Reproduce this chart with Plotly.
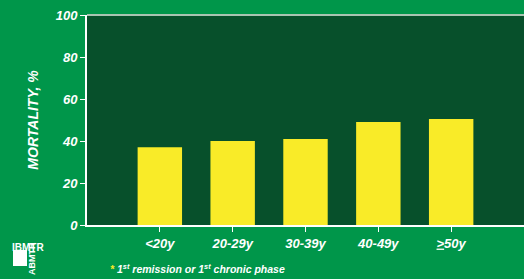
import plotly.graph_objects as go

categories = ["<20y", "20-29y", "30-39y", "40-49y", "<u>></u>50y"]
mortality = [37, 40, 41, 49, 50.5]
y_ticks = [0, 20, 40, 60, 80, 100]

BG = "#00964A"
PLOT_BG = "#07502B"
BAR = "#F9EB28"
FONT = "Liberation Sans, Arial, sans-serif"

L, T, W, H = 87, 15, 524, 279
PW, PH = W - L, 210
B = H - T - PH

def px(x):
    return (x - L) / PW

def py(y):
    return (T + PH - y) / PH

fig = go.Figure()
fig.add_trace(go.Bar(x=list(range(len(categories))), y=mortality,
                     marker=dict(color=BAR, line=dict(width=0)), width=0.61,
                     hoverinfo="skip"))

fig.update_layout(
    width=W, height=H,
    margin=dict(l=L, r=0, t=T, b=B, autoexpand=False),
    paper_bgcolor=BG, plot_bgcolor=PLOT_BG,
    showlegend=False,
    font=dict(family=FONT, color="white", size=13),
    xaxis=dict(range=[-1, 5], tickvals=list(range(len(categories))), ticktext=categories,
               showgrid=False, zeroline=False, showline=True, linecolor="white", linewidth=2,
               ticks="outside", ticklen=5, tickcolor="white", tickwidth=1,
               tickfont=dict(family=FONT, size=13, color="white", weight="bold", style="italic")),
    yaxis=dict(range=[0, 100], tickvals=y_ticks, showgrid=False, zeroline=False,
               showline=True, linecolor="white", linewidth=2,
               ticks="outside", ticklen=5, tickcolor="white", tickwidth=1,
               tickfont=dict(family=FONT, size=13, color="white", weight="bold", style="italic"),
               title=dict(text="MORTALITY, %", standoff=14,
                          font=dict(family=FONT, size=14, color="white", weight="bold", style="italic"))),
)

fig.add_shape(type="line", xref="paper", yref="paper", x0=0, x1=1, y0=1, y1=1,
              line=dict(color="#A9C4B2", width=2))

fig.add_annotation(xref="paper", yref="paper", x=px(108), y=py(268), xanchor="left", yanchor="middle",
                   showarrow=False,
                   text=f"<span style='color:{BAR}'>*</span> 1<sup>st</sup> remission or 1<sup>st</sup> chronic phase",
                   font=dict(family=FONT, size=10.5, color="white", weight="bold", style="italic"))

# logo
fig.add_shape(type="rect", xref="paper", yref="paper", x0=px(13), x1=px(27), y0=py(250), y1=py(266),
              fillcolor="white", line=dict(width=0))
fig.add_annotation(xref="paper", yref="paper", x=px(10), y=py(247), xanchor="left", yanchor="middle",
                   showarrow=False, text="IBMTR",
                   font=dict(family=FONT, size=10, color="white", weight="bold"))
fig.add_annotation(xref="paper", yref="paper", x=px(32), y=py(258), xanchor="center", yanchor="middle",
                   showarrow=False, text="ABMTR", textangle=-90,
                   font=dict(family=FONT, size=9, color="white", weight="bold"))

fig.write_html("out.html", post_script="document.body.style.margin='0';",
               config={"displayModeBar": False})
